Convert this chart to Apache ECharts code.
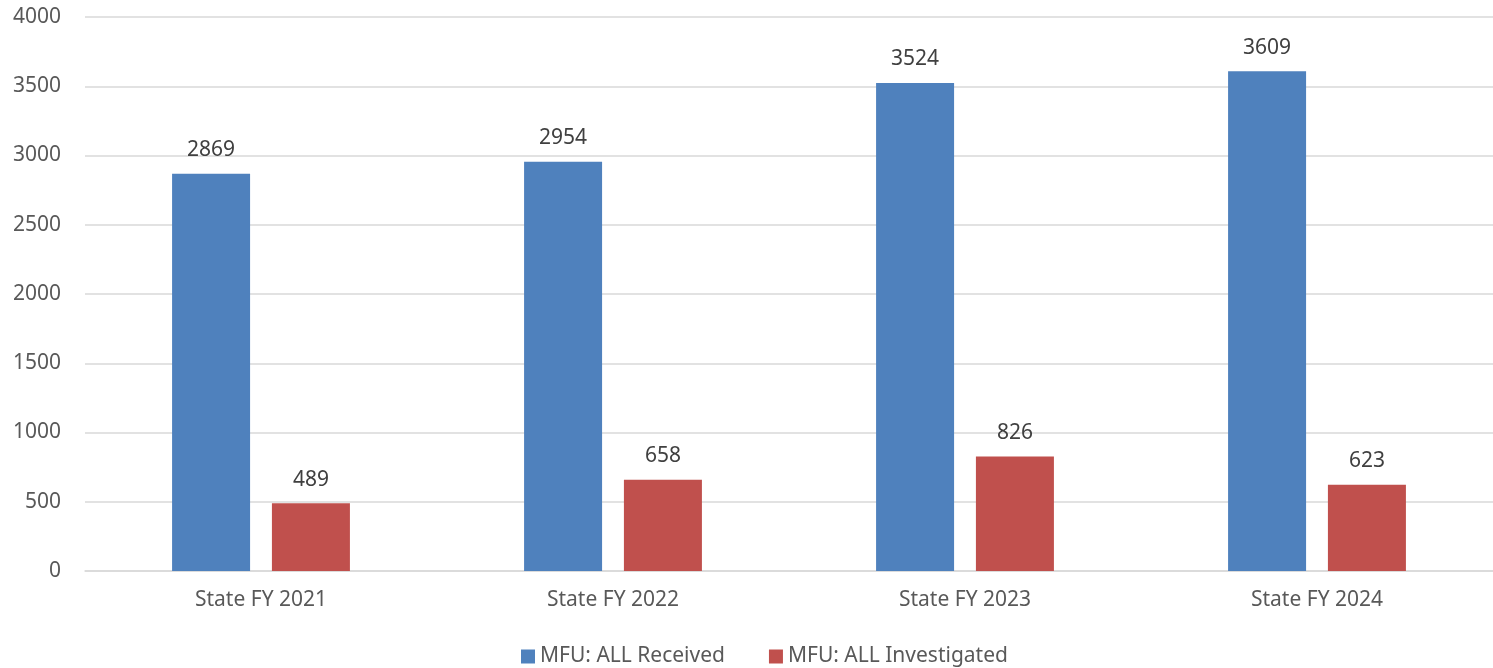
<!DOCTYPE html>
<html><head><meta charset="utf-8">
<script src="https://cdn.jsdelivr.net/npm/echarts@6/dist/echarts.min.js"></script>
<style>html,body{margin:0;padding:0;background:#fff}#c{width:1493px;height:668px}</style>
</head><body><div id="c"></div>
<script>
const categories = ["State FY 2021", "State FY 2022", "State FY 2023", "State FY 2024"];
const received = [2869, 2954, 3524, 3609];
const investigated = [489, 658, 826, 623];
const yTicks = { min: 0, max: 4000, interval: 500 };
const font = "Noto Sans";
const chart = echarts.init(document.getElementById('c'));
chart.setOption({
  animation: false,
  textStyle: { fontFamily: font },
  grid: { left: 85, right: 0, top: 17, bottom: 97, containLabel: false },
  legend: {
    top: 641, left: 516, itemWidth: 14, itemHeight: 14, itemGap: 44,
    icon: 'rect',
    textStyle: { fontFamily: font, fontSize: 21, color: '#595959' },
    data: ['MFU: ALL Received', 'MFU: ALL Investigated']
  },
  xAxis: {
    type: 'category', data: categories,
    axisLine: { lineStyle: { color: '#d9d9d9', width: 1.5 } },
    axisTick: { show: false },
    axisLabel: { color: '#595959', fontSize: 21, margin: 19, fontFamily: font }
  },
  yAxis: {
    type: 'value', min: yTicks.min, max: yTicks.max, interval: yTicks.interval,
    axisLine: { show: false }, axisTick: { show: false },
    splitLine: { lineStyle: { color: '#d9d9d9', width: 1.5 } },
    axisLabel: { color: '#595959', fontSize: 21, margin: 24, fontFamily: font, formatter: v => String(v) }
  },
  series: [
    { name: 'MFU: ALL Received', type: 'bar', data: received, barWidth: 78, barGap: '28%',
      itemStyle: { color: '#4F81BD' },
      label: { show: true, position: 'top', distance: 13, color: '#404040', fontSize: 21, fontFamily: font } },
    { name: 'MFU: ALL Investigated', type: 'bar', data: investigated, barWidth: 78,
      itemStyle: { color: '#C0504D' },
      label: { show: true, position: 'top', distance: 13, color: '#404040', fontSize: 21, fontFamily: font } }
  ]
});
</script></body></html>
